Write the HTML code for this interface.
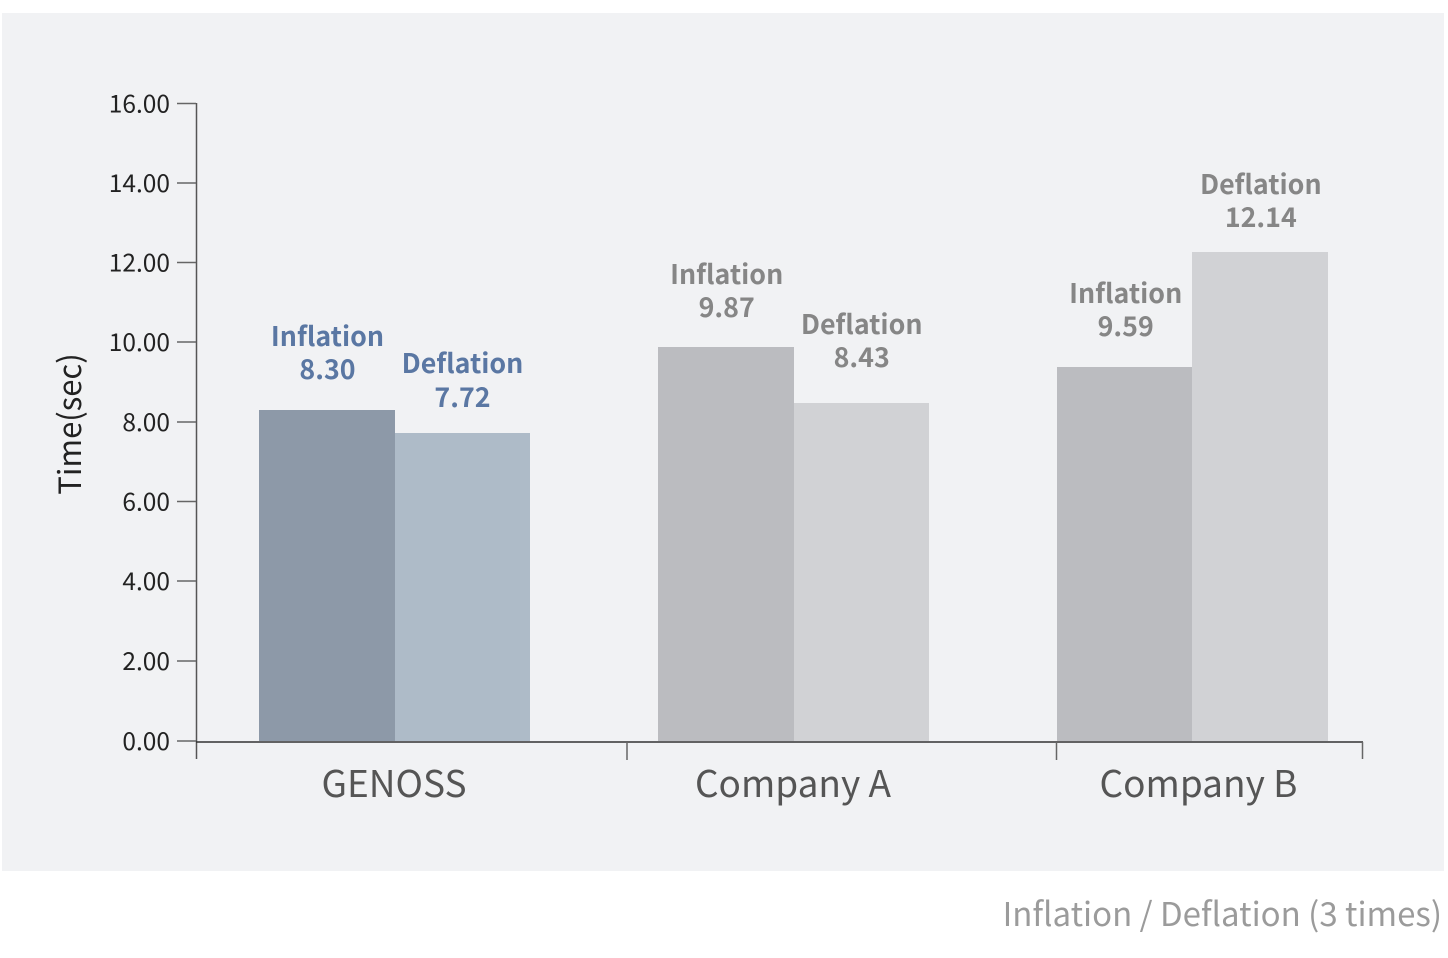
<!DOCTYPE html>
<html>
<head>
<meta charset="utf-8">
<style>
  html, body { margin: 0; padding: 0; background: #ffffff; }
  body { width: 1448px; height: 958px; overflow: hidden; }
  svg { display: block; }
  text { font-family: "Noto Sans CJK KR", "Liberation Sans", sans-serif; }
</style>
</head>
<body>
<svg width="1448" height="958" viewBox="0 0 1448 958" xmlns="http://www.w3.org/2000/svg">
  <rect x="0" y="0" width="1448" height="958" fill="#ffffff"/>
  <rect x="2" y="13" width="1442" height="858" fill="#f1f2f4"/>

  <!-- bars -->
  <rect x="259" y="410" width="136" height="331" fill="#8d99a8"/>
  <rect x="395" y="433" width="135" height="308" fill="#aebbc8"/>
  <rect x="658" y="347" width="136" height="394" fill="#bbbcc0"/>
  <rect x="794" y="403" width="135" height="338" fill="#d1d2d5"/>
  <rect x="1057" y="367" width="135" height="374" fill="#bbbcc0"/>
  <rect x="1192" y="252" width="136" height="489" fill="#d1d2d5"/>

  <!-- y axis -->
  <line x1="196.5" y1="103" x2="196.5" y2="759" stroke="#555" stroke-width="1.5"/>
  <g stroke="#666" stroke-width="1.5">
    <line x1="177" y1="103.5" x2="196" y2="103.5"/>
    <line x1="177" y1="183" x2="196" y2="183"/>
    <line x1="177" y1="262.5" x2="196" y2="262.5"/>
    <line x1="177" y1="342" x2="196" y2="342"/>
    <line x1="177" y1="422" x2="196" y2="422"/>
    <line x1="177" y1="501.5" x2="196" y2="501.5"/>
    <line x1="177" y1="581" x2="196" y2="581"/>
    <line x1="177" y1="661" x2="196" y2="661"/>
    <line x1="177" y1="741" x2="196" y2="741"/>
  </g>
  <g font-size="24.5" fill="#222" text-anchor="end">
    <text x="170" y="112.5">16.00</text>
    <text x="170" y="192">14.00</text>
    <text x="170" y="271.5">12.00</text>
    <text x="170" y="351">10.00</text>
    <text x="170" y="431">8.00</text>
    <text x="170" y="510.5">6.00</text>
    <text x="170" y="590">4.00</text>
    <text x="170" y="670">2.00</text>
    <text x="170" y="750">0.00</text>
  </g>
  <text x="0" y="0" font-size="31" fill="#222" text-anchor="middle" transform="translate(81,424) rotate(-90)">Time(sec)</text>

  <!-- x axis -->
  <line x1="196" y1="742" x2="1363" y2="742" stroke="#333" stroke-width="1.5"/>
  <g stroke="#666" stroke-width="1.5">
    <line x1="627" y1="742" x2="627" y2="760"/>
    <line x1="1056.5" y1="742" x2="1056.5" y2="760"/>
    <line x1="1362.5" y1="742" x2="1362.5" y2="759"/>
  </g>
  <g font-size="37" fill="#555" text-anchor="middle">
    <text x="394" y="797">GENOSS</text>
    <text x="793" y="797">Company A</text>
    <text x="1198.5" y="797">Company B</text>
  </g>

  <!-- value labels -->
  <g font-size="26.8" font-weight="700" text-anchor="middle" fill="#5a77a3">
    <text x="327.5" y="346">Inflation</text>
    <text x="327.5" y="379">8.30</text>
    <text x="462.5" y="373">Deflation</text>
    <text x="462.5" y="407">7.72</text>
  </g>
  <g font-size="26.8" font-weight="700" text-anchor="middle" fill="#868686">
    <text x="726.7" y="284">Inflation</text>
    <text x="726.7" y="317">9.87</text>
    <text x="861.7" y="334">Deflation</text>
    <text x="861.7" y="367">8.43</text>
    <text x="1125.7" y="303">Inflation</text>
    <text x="1125.7" y="336">9.59</text>
    <text x="1260.8" y="194">Deflation</text>
    <text x="1260.8" y="227">12.14</text>
  </g>

  <!-- footnote -->
  <text x="1442" y="926" font-size="33" fill="#9b9b9b" text-anchor="end">Inflation / Deflation (3 times)</text>
</svg>
</body>
</html>
